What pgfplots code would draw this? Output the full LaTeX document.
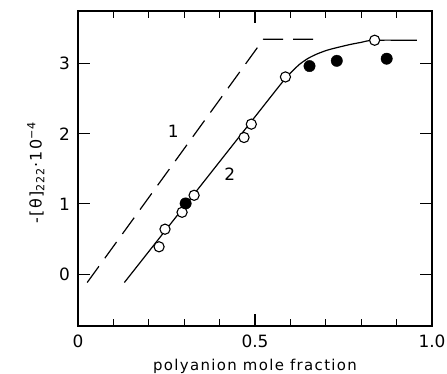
\documentclass[border=0pt]{standalone}
\usepackage{fontspec}
\setmainfont{DejaVu Sans}
\newfontfamily\lblfont{DejaVu Sans}[LetterSpace=9]
\usepackage{pgfplots}
\pgfplotsset{compat=1.18}
\begin{document}
\begin{tikzpicture}
\begin{axis}[
  scale only axis,
  width=354bp, height=315bp,
  xmin=0, xmax=1, ymin=-0.74, ymax=3.75,
  axis line style={line width=1.2bp},
  tick style={line width=1.1bp, black},
  tick align=inside,
  xtick={0,0.5,1},
  xticklabels={0,0.5,1.0},
  minor xtick={0.1,0.2,0.3,0.4,0.6,0.7,0.8,0.9},
  ytick={0,1,2,3},
  major tick length=12bp,
  minor tick length=7bp,
  xtick pos=both, ytick pos=both,
  /pgf/number format/assume math mode=true,
  ticklabel style={font=\fontsize{17}{17}\selectfont},
  xticklabel style={inner sep=0pt, anchor=north, yshift=-9bp},
  yticklabel style={inner sep=0pt, anchor=east, xshift=-8bp},
  xlabel={polyanion mole fraction},
  xlabel style={font=\lblfont\fontsize{15}{15}\selectfont, at={(axis description cs:0.5,-0.1397)}, anchor=base, inner sep=0pt},
  ylabel={-[θ]\textsubscript{222}·10\textsuperscript{−4}},
  ylabel style={font=\lblfont\fontsize{16}{16}\selectfont, at={(axis description cs:-0.1025,0.487)}, rotate=0, anchor=base, inner sep=0pt},
  clip=false,
]
% curve 1 (dashed)
\addplot[black, line width=1.2bp, dash pattern=on 20bp off 10bp] coordinates {
  (0.026,-0.12) (0.524,3.348) (0.665,3.348)
};
% curve 2 (solid)
\addplot[black, line width=1.2bp, smooth, tension=0.4] coordinates {
  (0.131,-0.12) (0.30,0.962) (0.50,2.242) (0.57,2.69) (0.59,2.81)
  (0.61,2.915) (0.627,2.995) (0.65,3.075) (0.674,3.135) (0.70,3.185)
  (0.721,3.215) (0.768,3.272) (0.80,3.303) (0.834,3.333) (0.957,3.333)
};
% open circles
\addplot[only marks, mark=*, mark size=5.1bp, mark options={fill=white, draw=black, line width=1.1bp}] coordinates {
  (0.229,0.389) (0.2458,0.64) (0.294,0.881) (0.328,1.123)
  (0.469,1.947) (0.4896,2.137) (0.586,2.81) (0.838,3.333)
};
% filled circles
\addplot[only marks, mark=*, mark size=5.7bp, mark options={fill=black, draw=black}] coordinates {
  (0.304,1.007) (0.654,2.965) (0.731,3.04) (0.872,3.07)
};
\node[font=\fontsize{17}{17}\selectfont] at (axis cs:0.269,2.03) {1};
\node[font=\fontsize{17}{17}\selectfont] at (axis cs:0.429,1.43) {2};
\end{axis}
\pgfresetboundingbox
\path ([shift={(-78bp,-48bp)}]current axis.south west) rectangle ([shift={(15bp,11bp)}]current axis.north east);
\end{tikzpicture}
\end{document}
